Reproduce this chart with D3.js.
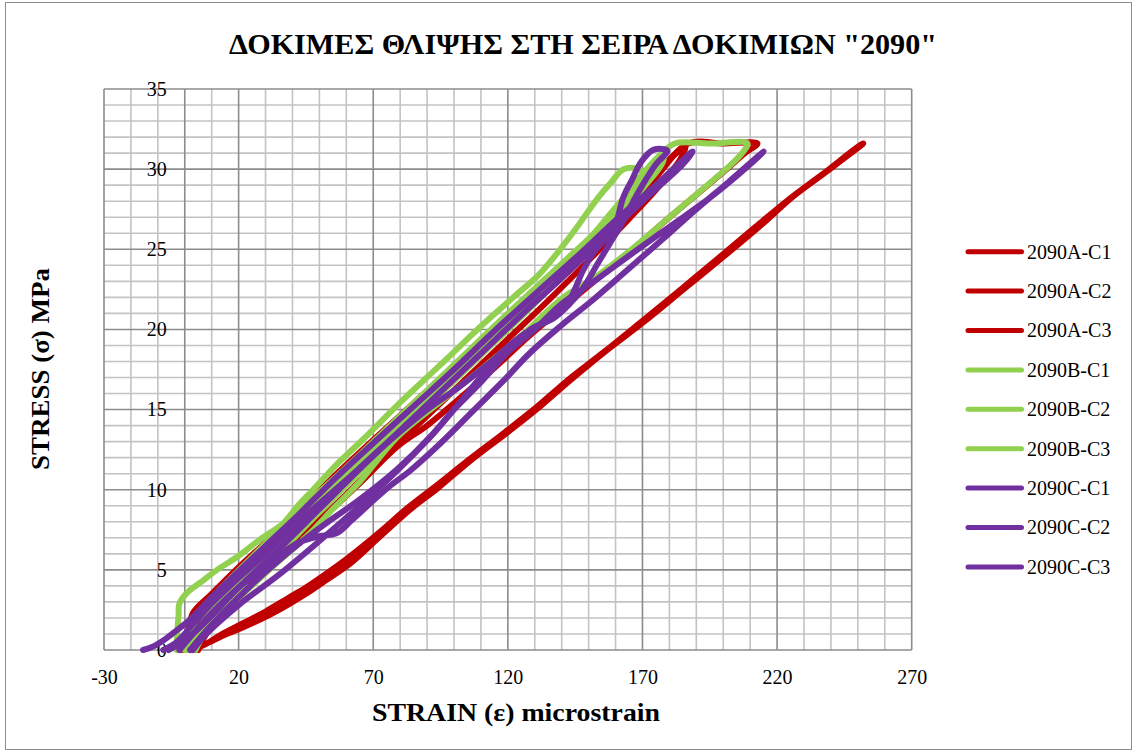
<!DOCTYPE html>
<html><head><meta charset="utf-8">
<script src="https://cdn.jsdelivr.net/npm/d3@7"></script>
<style>body{margin:0;background:#fff}svg{display:block}</style>
</head><body>
<svg id="c" width="1137" height="753"></svg>
<script>
// ---------- DATA ----------
const chartTitle = 'ΔΟΚΙΜΕΣ ΘΛΙΨΗΣ ΣΤΗ ΣΕΙΡΑ ΔΟΚΙΜΙΩΝ "2090"';
const xTitle = "STRAIN (ε) microstrain";
const yTitle = "STRESS (σ) MPa";
const xTicks = [-30, 20, 70, 120, 170, 220, 270];
const yTicks = [0, 5, 10, 15, 20, 25, 30, 35];
const seriesNames = ["2090A-C1","2090A-C2","2090A-C3","2090B-C1","2090B-C2","2090B-C3","2090C-C1","2090C-C2","2090C-C3"];
const seriesColors = ["#C00000","#C00000","#C00000","#92D050","#92D050","#92D050","#7030A0","#7030A0","#7030A0"];

// [strain, stress]
const dataA_C1 = [[2,0],[8,0.4],[13,0.8],[20,1.3],[28,1.9],[36,2.6],[44,3.4],[52,4.3],[61.5,5.4],[72,7],[84,8.8],[94,10.1],[106,11.8],[120,13.6],[132,15.2],[143,16.8],[156,18.6],[170,20.4],[186,22.6],[202,24.8],[214,26.5],[226,28.3],[238,29.8],[252,31.6],
  [250,31.4],[237,29.7],[225,28.2],[212,26.4],[200,24.7],[185,22.6],[169,20.4],[155,18.5],[142,16.8],[131,15.2],[119,13.6],[105,11.8],[93,10.2],[83,8.9],[72,7.3],[61,5.8],[52,4.7],[45,3.9],[38,3.2],[30,2.4],[22,1.7],[14,1.0],[7,0.3],[3,0]];
const dataA_C2 = [[-1,0],[1,1],[3,2.3],[10,3.5],[19,5],[30,6.7],[42,8.6],[54,10.6],[70,13.1],[85,15.4],[100,17.7],[115,20],[130,22.3],[146,24.7],[160,26.9],[174,29.3],[187,31.6],[200,31.6],[212.7,31.6],
  [208,31],[202,30.1],[190,28.4],[178,26.7],[165,24.8],[152,23],[140,21.3],[128,19.6],[115,17.6],[100,15.4],[90,14],[79,12.7],[65,10.4],[47,7.6],[32,5.2],[17,2.8],[8,1],[5,0]];
const dataA_C3 = [[1,0],[4,1.2],[8,2.2],[20,4.4],[35,6.9],[50,9.4],[65,11.8],[80,14.1],[95,16.5],[110,18.8],[125,21.1],[140,23.6],[155,26],[168,28.4],[180,30.6],[186,31.4],
  [184,30.6],[176,28.9],[165,26.9],[150,24.3],[135,21.8],[120,19.4],[105,17],[90,14.6],[75,12.2],[60,9.7],[45,7.3],[30,4.9],[15,2.5],[7,0.8],[4,0]];
const dataB_C1 = [[-3,0],[-2.8,1],[-2.3,2.2],[-2,2.9],[1,3.6],[5.7,4.2],[12,5],[19.4,5.8],[28,6.9],[36.5,7.9],[42,9],[47.7,10],[56,11.5],[66,13.1],[81,15.6],[95,17.8],[110,20.2],[122,22],[132,23.5],[144,26],[153,28.1],[158,29.1],[163,30],[168.5,30],
  [170,29.7],[165,28.6],[158,27.2],[150,25.6],[140,23.8],[128,21.8],[115,19.7],[100,17.3],[85,14.9],[70,12.4],[55,9.9],[40,7.3],[25,4.6],[12,2.2],[4,0.6],[2,0]];
const dataB_C2 = [[0,0],[3,1.5],[10,3.2],[22,5.3],[40,8.3],[60,11.4],[80,14.6],[100,17.8],[120,21],[140,24.1],[155,26.5],[169,29.5],[176,30.8],[182,31.6],[195,31.6],[209,31.6],
  [207,31],[203,30.3],[192,28.7],[180,27],[166,25],[152,23.2],[140.6,22],[125,19.6],[110,17.5],[95,15.5],[79,13.3],[65,10.5],[55,8.8],[46.6,7.3],[30,4.8],[16.8,2.7],[6,0.9],[1,0]];
const dataB_C3 = [[2,0],[5,1.3],[12,2.8],[25,5],[40,7.6],[55,10.2],[70,12.7],[76,13.3],[85,14.9],[95,16.4],[113.5,19.3],[130,21.8],[145,24.3],[155,26.1],[165,28],[172,29.5],[178,30.6],
  [176,30],[168,28.4],[158,26.5],[148,24.7],[138,23],[125,20.8],[110,18.4],[95,16],[80,13.6],[65,11.1],[50,8.6],[35,6],[20,3.4],[8,1.2],[4,0]];
const dataC_C1 = [[-15.5,0],[-12,0.2],[-8,0.6],[-4,1.1],[2,1.9],[10,3.3],[20,4.9],[30,6.5],[42,8.4],[54,10.4],[70,12.9],[85,15.2],[100,17.5],[115,19.9],[132,22.5],[146,24.6],[160,26.8],[175,29],[188.6,31.1],
  [185,30.3],[170,28],[155,25.6],[140,23.2],[125,20.9],[110,18.5],[95,16.1],[80,13.7],[65,11.3],[50,8.8],[35,6.3],[20,3.9],[8,1.8],[0,0.6],[-6,0]];
const dataC_C2 = [[-2,0],[3,1],[10,2.3],[20,3.9],[30,5.2],[41.6,6.65],[50,7.1],[56.5,7.3],[62,8.1],[68.9,9.15],[76,10.2],[83.8,11.2],[95,12.9],[107,14.9],[118.4,16.8],[128,18.5],[139.5,20.2],[152,21.9],[165,23.8],[178,25.7],[190,27.5],[202,29.2],[215,31.1],
  [210,30.3],[195,28.2],[180,26.4],[165,24.6],[152,23],[140,21.6],[130,20],[120,18.6],[112.4,17.5],[101,15.2],[91.2,13.3],[79,11.3],[65,9.4],[50,7.6],[35,5.6],[20,3.3],[8,1.2],[2,0]];
const dataC_C3 = [[-8,0],[-3,0.5],[3,1.6],[10,2.9],[20,4.5],[30,6],[45,8.4],[60,10.6],[75,12.9],[90,15],[101,16.3],[112.4,17.8],[125,19.6],[135,20.6],[142,21.6],[148,23.7],[151.8,24.8],[155,25.4],[159.2,26.2],[163,28.3],[166,29.3],[169.3,30.4],[174,31.2],
  [179.3,31.15],[175,30.3],[170,29],[166,27.8],[162,26.5],[158,25.4],[153,24],[148,22.6],[143,21.6],[137,20.7],[128.4,20],[120,18.6],[110,16.7],[100,15],[91.2,13.3],[79,11.2],[65,9],[50,6.8],[35,4.7],[20,2.8],[8,1],[3,0]];
const seriesData = [dataA_C1,dataA_C2,dataA_C3,dataB_C1,dataB_C2,dataB_C3,dataC_C1,dataC_C2,dataC_C3];

// ---------- DRAW ----------
const svg = d3.select("#c");
const FONT = "'Liberation Serif','Times New Roman',serif";
svg.append("rect").attr("x",5.5).attr("y",2.5).attr("width",1126).attr("height",747)
  .attr("fill","#fff").attr("stroke","#8c8c8c").attr("stroke-width",1);

const x = d3.scaleLinear().domain([-30,270]).range([104,911.7]);
const y = d3.scaleLinear().domain([0,35]).range([650,89]);

const grid = svg.append("g");
const minorX = d3.range(-30, 271, 10), minorY = d3.range(0, 36, 1);
const isMajorX = d => (d+30)%50===0 || d===0;
grid.selectAll(".vx").data(minorX.filter(d=>!isMajorX(d))).enter().append("line")
  .attr("x1",d=>x(d)).attr("x2",d=>x(d)).attr("y1",y(0)).attr("y2",y(35))
  .attr("stroke","#c3c3c3").attr("stroke-width",1.6);
grid.selectAll(".hy").data(minorY.filter(d=>d%5!==0)).enter().append("line")
  .attr("y1",d=>y(d)).attr("y2",d=>y(d)).attr("x1",x(-30)).attr("x2",x(270))
  .attr("stroke","#c3c3c3").attr("stroke-width",1.6);
grid.selectAll(".hym").data(minorY.filter(d=>d%5===0)).enter().append("line")
  .attr("y1",d=>y(d)).attr("y2",d=>y(d)).attr("x1",x(-30)).attr("x2",x(270))
  .attr("stroke","#8c8c8c").attr("stroke-width",1.6);
grid.selectAll(".vxm").data(minorX.filter(isMajorX)).enter().append("line")
  .attr("x1",d=>x(d)).attr("x2",d=>x(d)).attr("y1",y(0)).attr("y2",y(35))
  .attr("stroke","#8c8c8c").attr("stroke-width",1.6);

const fmt = d => String(d);
const xAxis = svg.append("g").attr("transform",`translate(0,${y(0)})`)
  .call(d3.axisBottom(x).tickValues(xTicks).tickFormat(fmt).tickSize(0).tickPadding(20));
xAxis.select(".domain").remove();
xAxis.selectAll("text").attr("font-family",FONT).attr("font-size",20).attr("fill","#000");

const yAxis = svg.append("g").attr("transform",`translate(${x(0)},0)`)
  .call(d3.axisLeft(y).tickValues(yTicks).tickFormat(fmt).tickSize(0).tickPadding(18));
yAxis.select(".domain").remove();
yAxis.selectAll("text").attr("font-family",FONT).attr("font-size",20).attr("fill","#000");

const line = d3.line().x(d=>x(d[0])).y(d=>y(d[1])).curve(d3.curveCatmullRom.alpha(0.5));
svg.append("g").selectAll("path").data(seriesData).enter().append("path")
  .attr("d",line).attr("fill","none").attr("stroke",(d,i)=>seriesColors[i])
  .attr("stroke-width",6).attr("stroke-linejoin","round").attr("stroke-linecap","round");

svg.append("text").attr("x",583).attr("y",54).attr("text-anchor","middle")
  .attr("font-family",FONT).attr("font-weight","bold").attr("font-size",30)
  .attr("textLength",708).attr("lengthAdjust","spacingAndGlyphs").text(chartTitle);
svg.append("text").attr("x",516).attr("y",721).attr("text-anchor","middle")
  .attr("font-family",FONT).attr("font-weight","bold").attr("font-size",25)
  .attr("textLength",288).attr("lengthAdjust","spacingAndGlyphs").text(xTitle);
svg.append("text").attr("transform","translate(49,369) rotate(-90)").attr("text-anchor","middle")
  .attr("font-family",FONT).attr("font-weight","bold").attr("font-size",25)
  .attr("textLength",202).attr("lengthAdjust","spacingAndGlyphs").text(yTitle);

const lg = svg.append("g").selectAll("g").data(seriesNames).enter().append("g")
  .attr("transform",(d,i)=>`translate(0,${251.7+i*39.4})`);
lg.append("line").attr("x1",968).attr("x2",1021.5).attr("y1",0).attr("y2",0)
  .attr("stroke",(d,i)=>seriesColors[i]).attr("stroke-width",5).attr("stroke-linecap","round");
lg.append("text").attr("x",1027).attr("y",0).attr("dy","0.34em")
  .attr("font-family",FONT).attr("font-size",20).attr("fill","#000").text(d=>d);
</script>
</body></html>
